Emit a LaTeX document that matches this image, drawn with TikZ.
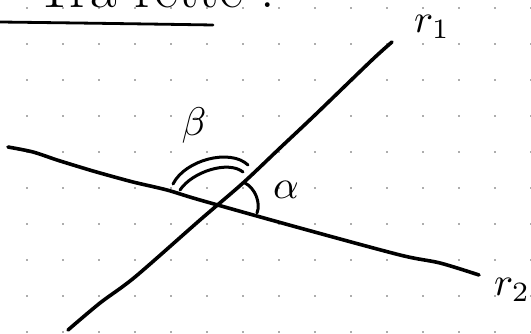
\documentclass[tikz,border=0pt]{standalone}
\usepackage{amsmath}
\usepackage{graphicx}
\usepackage{tikz}
\usetikzlibrary{positioning, calc}
\definecolor{inkcol}{HTML}{000000}
\definecolor{dotcol}{HTML}{5A5A5A}
\newcommand{\biglbl}[1]{\scalebox{4}{$#1$}}
\tikzset{
  % grid dot of the notebook page
  gridpt/.style={circle, fill=dotcol, inner sep=0pt, minimum size=1.8pt},
  % pen stroke for the two lines
  penline/.style={draw=inkcol, line width=3.6pt, line cap=round, line join=round},
  % thinner pen stroke for angle marks
  anglemark/.style={draw=inkcol, line width=3pt, line cap=round},
  % handwritten label
  lbl/.style={text=inkcol, inner sep=0pt},
}

\begin{document}
\begin{tikzpicture}[x=1pt, y=-1pt]
  \useasboundingbox (0,0) rectangle (531,334);
  \clip (0,0) rectangle (531,334);
  % dotted paper
  \foreach \i in {0,...,14}
    \foreach \j in {0,...,9}
      \node[gridpt] (dot-\i-\j) at (27+36*\i, 8+36*\j) {};
  % heading, cut at the top edge
  \node[lbl, anchor=base west, font=\fontsize{58}{60}\selectfont]
    (head) at (35,8) {Tra rette\hspace{18pt}:};
  \draw[penline, line width=2.8pt] (0,22) .. controls (80,23) and (150,24) .. (213,25);
  % the two lines
  \coordinate (r1a) at (68,330);
  \coordinate (r1b) at (392,42);
  \coordinate (r2a) at (8,147);
  \coordinate (r2b) at (479,275);
  \draw[penline] plot[smooth] coordinates {(r1a) (100,303) (135,277) (200,220)
    (243,183) (280,148) (315,115) (372,60) (r1b)};
  \draw[penline] plot[smooth] coordinates {(r2a) (33,152) (57,160) (83,168)
    (100,173) (133,182) (167,190) (200,200) (300,228) (400,255) (440,263) (r2b)};
  % angle marks
  \draw[anglemark] (173,184) .. controls (185,160) and (230,148) .. (248,165);
  \draw[anglemark] (180,190) .. controls (192,172) and (228,160) .. (243,172);
  \draw[anglemark] (245,183) .. controls (255,188) and (261,203) .. (257,213);
  % labels
  \node[lbl] (r1) at (432,27) {\biglbl{r_1}};
  \node[lbl] (r2) at (512,290) {\biglbl{r_2}};
  \node[lbl] (beta) at (194,126) {\biglbl{\beta}};
  \node[lbl] (alpha) at (286,190) {\biglbl{\alpha}};
\end{tikzpicture}
\end{document}
